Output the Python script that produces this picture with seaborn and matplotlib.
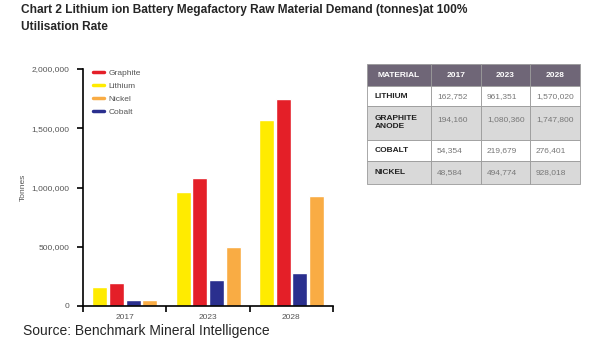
import numpy as np
import pandas as pd
import matplotlib
matplotlib.use("Agg")
import matplotlib.pyplot as plt
from matplotlib.lines import Line2D
from matplotlib.ticker import StrMethodFormatter
import seaborn as sns

years = ["2017", "2023", "2028"]
lithium = [162752, 961351, 1570020]
graphite = [194160, 1080360, 1747800]
cobalt = [54354, 219679, 276401]
nickel = [48584, 494774, 928018]

bar_order = ["Lithium", "Graphite", "Cobalt", "Nickel"]
legend_order = ["Graphite", "Lithium", "Nickel", "Cobalt"]
colors = {"Lithium": "#FFEB00", "Graphite": "#E41F28", "Cobalt": "#2A2F8E", "Nickel": "#F9AC44"}

table_cols = ["MATERIAL", "2017", "2023", "2028"]
table_rows = ["LITHIUM", "GRAPHITE\nANODE", "COBALT", "NICKEL"]

df = pd.DataFrame({
    "Year": years * 4,
    "Material": ["Lithium"] * 3 + ["Graphite"] * 3 + ["Cobalt"] * 3 + ["Nickel"] * 3,
    "Tonnes": lithium + graphite + cobalt + nickel,
})

sns.set_style("white")
plt.rcParams["font.family"] = ["Liberation Sans", "DejaVu Sans"]

fig = plt.figure(figsize=(6, 3.54), dpi=100)
W, H = 600, 354

fig.text(21 / W, 1 - 4 / H, "Chart 2 Lithium ion Battery Megafactory Raw Material Demand (tonnes)at 100%\nUtilisation Rate",
         fontsize=8.6, fontweight="bold", va="top", ha="left", linespacing=1.55)
fig.text(23 / W, 1 - 331 / H, "Source: Benchmark Mineral Intelligence", fontsize=10, va="center", ha="left")

ax = fig.add_axes([83 / W, 1 - 306 / H, 250 / W, (306 - 69) / H])
sns.barplot(data=df, x="Year", y="Tonnes", hue="Material", hue_order=bar_order,
            palette=colors, width=0.8, gap=0.1, ax=ax, legend=False, saturation=1)

ax.set_ylim(0, 2000000)
ax.set_xlim(-0.5, 2.5)
ax.yaxis.set_major_formatter(StrMethodFormatter("{x:,.0f}"))
ax.set_yticks([0, 500000, 1000000, 1500000, 2000000])
ax.set_xlabel("")
ax.set_ylabel("Tonnes", fontsize=6, color="#555555", labelpad=3)
ax.set_xticks([0, 1, 2])
ax.set_xticks([-0.5, 0.5, 1.5, 2.5], minor=True)
ax.tick_params(axis="x", which="major", length=0, labelsize=6, labelcolor="#555555", pad=6)
ax.tick_params(axis="x", which="minor", length=4, width=1.2, direction="out", color="black", bottom=True)
ax.tick_params(axis="y", length=4, width=1.2, direction="out", color="black", left=True,
               labelsize=6, labelcolor="#555555", pad=6)
sns.despine(ax=ax, top=True, right=True)
for s in ["left", "bottom"]:
    ax.spines[s].set_color("black")
    ax.spines[s].set_linewidth(1.2)

handles = [Line2D([0], [0], color=colors[m], lw=2.5) for m in legend_order]
ax.legend(handles, legend_order, loc="upper left", bbox_to_anchor=(0.01, 1.03), frameon=False,
          fontsize=6, handlelength=1.3, handletextpad=0.6, labelspacing=0.6, labelcolor="#555555")

# table
tax = fig.add_axes([367 / W, 1 - 184 / H, 213 / W, 120 / H])
tax.axis("off")
data_cols = [lithium, graphite, cobalt, nickel]
cell_text = [[table_rows[i]] + [f"{v:,}" for v in data_cols[i]] for i in range(4)]
tbl = tax.table(cellText=cell_text, colLabels=table_cols, cellLoc="left", bbox=[0, 0, 1, 1])
tbl.auto_set_font_size(False)
col_w = [64 / 213, 50 / 213, 49 / 213, 50 / 213]
row_h = [22, 20, 33, 21, 23]
for (r, c), cell in tbl.get_celld().items():
    cell.set_width(col_w[c])
    cell.set_height(row_h[r] / 119)
    cell.set_edgecolor("#9a9a9a")
    cell.set_linewidth(0.6)
    cell.PAD = 0.12
    t = cell.get_text()
    t.set_fontsize(6)
    if r == 0:
        cell.set_facecolor("#6F6677")
        t.set_color("white")
        t.set_fontweight("bold")
    else:
        cell.set_facecolor("#D9D9D9" if r % 2 == 0 else "white")
        if c == 0:
            t.set_fontweight("bold")
            t.set_color("#222222")
        else:
            t.set_color("#777777")
            if r == 2:
                t.set_va("bottom")

fig.savefig("out.png", dpi=100)
